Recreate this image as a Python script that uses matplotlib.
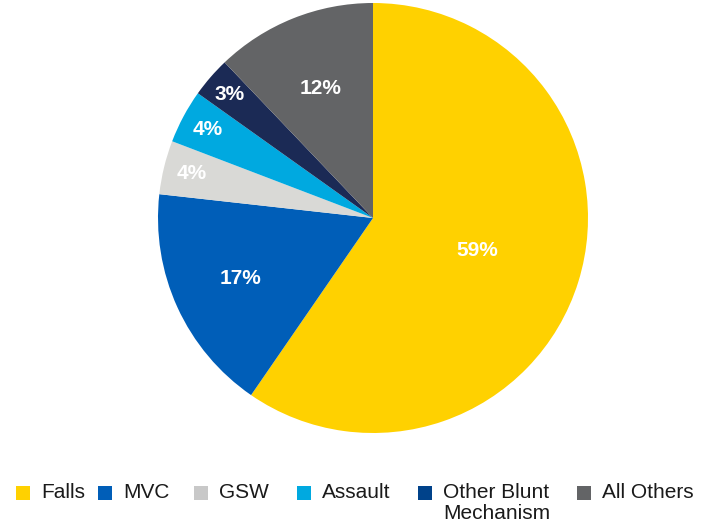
import matplotlib.pyplot as plt
from matplotlib.patches import Rectangle
import numpy as np

plt.rcParams['font.family'] = ['Liberation Sans', 'DejaVu Sans']

categories = ['Falls', 'MVC', 'GSW', 'Assault', 'Other Blunt\nMechanism', 'All Others']
shares = [59, 17, 4, 4, 3, 12]
colors = ['#FFD100', '#005EB8', '#D9D9D6', '#00A9E0', '#1B2A55', '#636466']
legend_colors = ['#FFD100', '#005EB8', '#C8C8C8', '#00A9E0', '#00428A', '#636466']
label_radius = [0.51, 0.68, 0.87, 0.87, 0.88, 0.65]

# legend key positions (pixels from left)
key_x = [16, 98, 194, 297, 418, 577]

W, H = 710, 530
fig = plt.figure(figsize=(W / 100, H / 100), dpi=100)
ax = fig.add_axes([158 / W, 97 / H, 430 / W, 430 / H])

wedges, _ = ax.pie(shares, colors=colors, startangle=90, counterclock=False,
                   wedgeprops=dict(linewidth=0))
ax.set_xlim(-1, 1)
ax.set_ylim(-1, 1)
ax.set_aspect('equal')

for w, s, r in zip(wedges, shares, label_radius):
    mid = np.deg2rad((w.theta1 + w.theta2) / 2)
    ax.text(r * np.cos(mid), r * np.sin(mid), f'{s}%', ha='center', va='center',
            color='white', fontsize=15, fontweight='bold')

# legend drawn by hand so the key sits beside the first line of text
for x, lab, c in zip(key_x, categories, legend_colors):
    fig.patches.append(Rectangle((x / W, 1 - 500 / H), 14 / W, 14 / H,
                                 transform=fig.transFigure, color=c, lw=0))
    fig.text((x + 25) / W, 1 - 483 / H, lab, ha='left', va='top',
             fontsize=15, linespacing=1.12, color='#1a1a1a',
             transform=fig.transFigure)

fig.savefig('out.png', dpi=100)
